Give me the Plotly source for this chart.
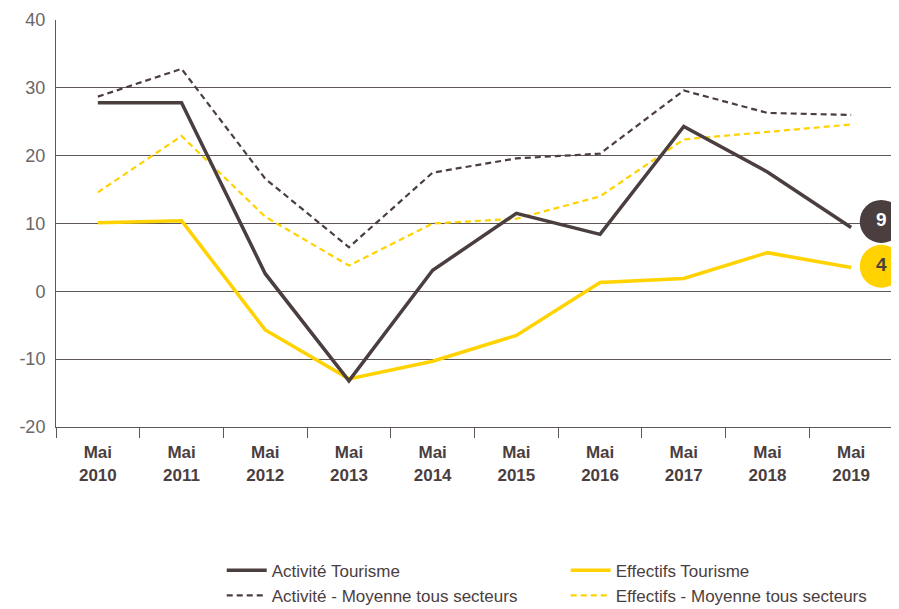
import plotly.graph_objects as go

categories = ["Mai<br>2010", "Mai<br>2011", "Mai<br>2012", "Mai<br>2013", "Mai<br>2014",
              "Mai<br>2015", "Mai<br>2016", "Mai<br>2017", "Mai<br>2018", "Mai<br>2019"]
activite_tourisme = [27.8, 27.8, 2.6, -13.2, 3.1, 11.5, 8.4, 24.3, 17.6, 9.4]
activite_moyenne = [28.7, 32.8, 16.6, 6.5, 17.5, 19.6, 20.3, 29.6, 26.3, 26.0]
effectifs_tourisme = [10.1, 10.4, -5.7, -12.9, -10.3, -6.5, 1.3, 1.9, 5.7, 3.5]
effectifs_moyenne = [14.6, 22.9, 11.0, 3.8, 10.0, 10.7, 14.0, 22.4, 23.5, 24.6]
y_ticks = [-20, -10, 0, 10, 20, 30, 40]
y_ticklabels = ["-20", "-10", "0", "10", "20", "30", "40"]
badge_values = [9, 4]
badge_y = [10.3, 3.7]

DARK = "#4b3e3f"
YELLOW = "#ffd200"
GRID = "#5e5657"

x = list(range(len(categories)))
fig = go.Figure()

fig.add_trace(go.Scatter(x=x, y=activite_moyenne, mode="lines", name="Activité - Moyenne tous secteurs",
                         line=dict(color=DARK, width=2.2, dash="6px,4px"),
                         legend="legend", legendrank=2, legendgroup="a2"))
fig.add_trace(go.Scatter(x=x, y=effectifs_moyenne, mode="lines", name="Effectifs - Moyenne tous secteurs",
                         line=dict(color=YELLOW, width=2.2, dash="6px,4px"),
                         legend="legend2", legendrank=2, legendgroup="e2"))
fig.add_trace(go.Scatter(x=x, y=effectifs_tourisme, mode="lines", name="Effectifs Tourisme",
                         line=dict(color=YELLOW, width=3.5),
                         legend="legend2", legendrank=1, legendgroup="e1"))
fig.add_trace(go.Scatter(x=x, y=activite_tourisme, mode="lines", name="Activité Tourisme",
                         line=dict(color=DARK, width=3.5),
                         legend="legend", legendrank=1, legendgroup="a1"))

# badges at the end of the tourism series
bx = [len(categories) - 1 + 0.36] * 2
fig.add_trace(go.Scatter(x=bx, y=badge_y, mode="markers+text",
                         marker=dict(size=43, color=[DARK, YELLOW], line=dict(width=0)),
                         text=[f"<b>{v}</b>" for v in badge_values],
                         textposition="middle center",
                         textfont=dict(size=19, color=["#ffffff", DARK], family="Liberation Sans"),
                         showlegend=False, cliponaxis=False, hoverinfo="skip"))

legend_common = dict(orientation="v", yanchor="top", y=-0.309, xanchor="left",
                     traceorder="grouped", tracegroupgap=0, itemwidth=40, bgcolor="rgba(0,0,0,0)",
                     font=dict(size=17, color=DARK, family="Liberation Sans"))

fig.update_layout(
    width=891, height=601,
    margin=dict(l=48, r=6, t=12, b=182, autoexpand=False),
    plot_bgcolor="white", paper_bgcolor="white",
    font=dict(family="Liberation Sans", color=DARK),
    showlegend=True,
    legend=dict(x=0.198, **legend_common),
    legend2=dict(x=0.609, **legend_common),
    hovermode=False,
)

fig.update_xaxes(
    range=[-0.5, len(categories) - 0.5],
    tickmode="array", tickvals=x, ticktext=[f"<b>{c}</b>" for c in categories],
    ticks="", showgrid=False, zeroline=False,
    showline=True, linecolor=GRID, linewidth=1,
    tickfont=dict(size=17, color=DARK),
    ticklabelstandoff=10,
    minor=dict(tick0=0.5, dtick=1, ticks="outside", ticklen=10, tickcolor=GRID, tickwidth=1, showgrid=False),
)
fig.update_yaxes(
    range=[-20, 40], tickmode="array", tickvals=y_ticks, ticktext=y_ticklabels,
    showgrid=True, gridcolor=GRID, gridwidth=1,
    zeroline=False, showline=True, linecolor=GRID, linewidth=1,
    ticks="", tickfont=dict(size=18, color="#6b6667"),
    ticklabelstandoff=6,
)

fig.write_html("out.html")
